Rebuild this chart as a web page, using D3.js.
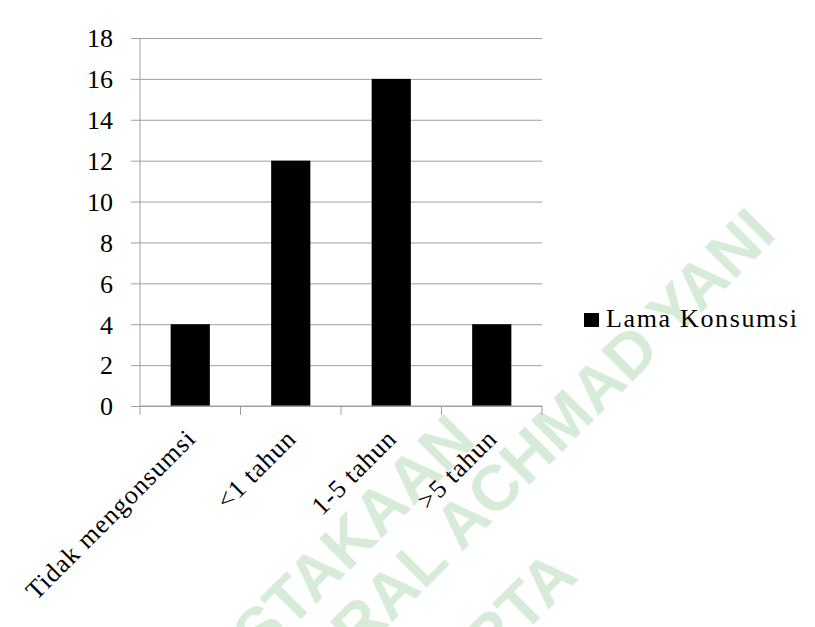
<!DOCTYPE html>
<html>
<head>
<meta charset="utf-8">
<script src="https://cdn.jsdelivr.net/npm/d3@7/dist/d3.min.js"></script>
<style>
  body { margin: 0; background: #fff; }
  svg { display: block; }
</style>
</head>
<body>
<svg></svg>
<script>
// data
var categories = ["Tidak mengonsumsi", "<1 tahun", "1-5 tahun", ">5 tahun"]
var values = [4, 12, 16, 4]
var yTicks = [0, 2, 4, 6, 8, 10, 12, 14, 16, 18]
var seriesName = "Lama Konsumsi"
var watermarkLines = ["PERPUSTAKAAN", "UNIVERSITAS JENDERAL ACHMAD YANI", "YOGYAKARTA"]

var screen = {width: 815, height: 627}
var plot = {left: 140, right: 542, top: 38, bottom: 406}
var gridColor = "#a0a0a0"
var serif = "'Liberation Serif', 'Times New Roman', serif"

var svg = d3.select("svg")
    .attr("width", screen.width)
    .attr("height", screen.height)

var setSerif = function(sel)
    {
        sel.attr("font-family", null)
           .style("font-family", serif)
           .style("font-size", "26px")
           .style("fill", "#000")
    }

// faint library watermark behind the chart
var wmEnds = [[478, 442], [778, 236], [580, 578]]
svg.append("g")
    .selectAll("text")
    .data(watermarkLines)
    .enter()
    .append("text")
    .attr("transform", function(d, i){ return "translate(" + wmEnds[i][0] + "," + wmEnds[i][1] + ") rotate(-45)" })
    .attr("text-anchor", "end")
    .style("font-family", "'Liberation Sans', Arial, sans-serif")
    .style("font-weight", "bold")
    .style("font-size", "64px")
    .style("fill", "#d7ecd8")
    .text(function(d){ return d })

var xScale = d3.scaleBand()
    .domain(categories)
    .range([plot.left, plot.right])
    .padding(0)

var yScale = d3.scaleLinear()
    .domain([0, 18])
    .range([plot.bottom, plot.top])

// y axis: gridlines + tick labels
var yAxis = d3.axisLeft(yScale)
    .tickValues(yTicks)
    .tickSizeInner(-(plot.right - plot.left + 9))
    .tickSizeOuter(0)
    .tickPadding(18)

var gy = svg.append("g")
    .attr("transform", "translate(" + (plot.left - 9) + ",0)")
    .call(yAxis)
gy.attr("font-family", null).attr("font-size", null)
gy.select(".domain").remove()
gy.selectAll("line").attr("stroke", gridColor).attr("stroke-width", 1)
gy.selectAll("text").attr("dy", "0.34em").call(setSerif)

// vertical axis line
svg.append("line")
    .attr("x1", plot.left).attr("x2", plot.left)
    .attr("y1", yScale(18)).attr("y2", yScale(0))
    .attr("stroke", gridColor)

// bars
var barFrac = 0.39
svg.append("g")
    .selectAll("rect")
    .data(values)
    .enter()
    .append("rect")
    .attr("x", function(v, i){ return xScale(categories[i]) + xScale.bandwidth() * (1 - barFrac) / 2 })
    .attr("width", xScale.bandwidth() * barFrac)
    .attr("y", function(v){ return yScale(v) })
    .attr("height", function(v){ return yScale(0) - yScale(v) })
    .attr("fill", "#000")

// x axis with ticks at category boundaries
var bounds = categories.map(function(c){ return xScale(c) }).concat([plot.right])
var gx = svg.append("g")
gx.append("line")
    .attr("x1", plot.left).attr("x2", plot.right)
    .attr("y1", yScale(0)).attr("y2", yScale(0))
    .attr("stroke", gridColor)
gx.selectAll(".tick")
    .data(bounds)
    .enter()
    .append("line")
    .attr("x1", function(b){ return b }).attr("x2", function(b){ return b })
    .attr("y1", yScale(0)).attr("y2", yScale(0) + 9)
    .attr("stroke", gridColor)

var xAxis = d3.axisBottom(xScale).tickSize(0).tickPadding(0)
var gxl = svg.append("g")
    .attr("transform", "translate(0," + yScale(0) + ")")
    .call(xAxis)
gxl.attr("font-family", null).attr("font-size", null)
gxl.select(".domain").remove()
gxl.selectAll("text")
    .attr("text-anchor", "end")
    .attr("x", 0).attr("y", 0).attr("dy", 0)
    .attr("transform", "translate(7,34) rotate(-45)")
    .call(setSerif)
    .style("letter-spacing", "1px")

// legend
var legend = svg.append("g").attr("transform", "translate(584,313)")
legend.append("rect")
    .attr("width", 15).attr("height", 14)
    .attr("fill", "#000")
legend.append("text")
    .attr("x", 22).attr("y", 14)
    .attr("textLength", 191)
    .attr("lengthAdjust", "spacing")
    .call(setSerif)
    .text(seriesName)
</script>
</body>
</html>
